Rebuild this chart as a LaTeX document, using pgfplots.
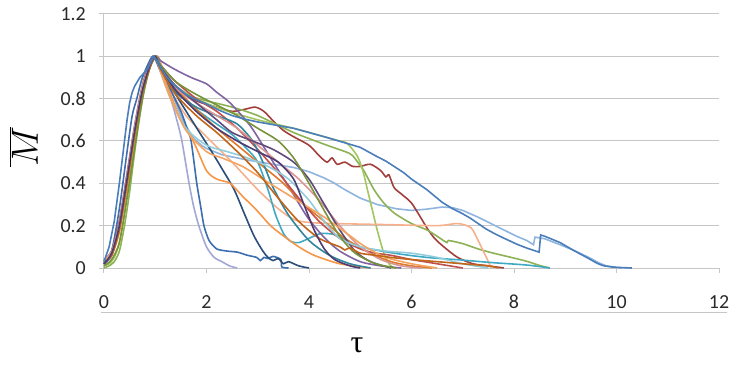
\documentclass[border=0pt]{standalone}
\usepackage{fix-cm}
\usepackage{pgfplots}
\pgfplotsset{compat=1.18}
\usepackage{fontspec}
\setmainfont{Carlito}
\newfontfamily\greekfont{Liberation Serif}
\definecolor{gridc}{HTML}{C6C6C6}
\definecolor{labc}{HTML}{2A2A2A}
\definecolor{cA}{HTML}{4A7EBB}
\definecolor{cB}{HTML}{8FB4DE}
\definecolor{cC}{HTML}{A23F3C}
\definecolor{cD}{HTML}{8DB255}
\definecolor{cE}{HTML}{A3C65E}
\definecolor{cF}{HTML}{F7B08C}
\definecolor{cG}{HTML}{3FA9C4}
\definecolor{cH}{HTML}{A2A8D6}
\definecolor{cI}{HTML}{3D6FB0}
\definecolor{cJ}{HTML}{2A4D7A}
\definecolor{cK}{HTML}{8064A2}
\definecolor{cL}{HTML}{F79646}
\definecolor{cM}{HTML}{E0782A}
\definecolor{cN}{HTML}{C0504D}
\definecolor{cO}{HTML}{31859C}
\definecolor{cP}{HTML}{D99694}
\definecolor{cQ}{HTML}{604A7B}
\definecolor{cR}{HTML}{92CDDC}
\definecolor{cS}{HTML}{F4A460}
\definecolor{cT}{HTML}{77933C}
\definecolor{cU}{HTML}{C0651A}
\definecolor{cV}{HTML}{4D3B72}
\begin{document}
\begin{tikzpicture}
\path[use as bounding box] (-104bp,-98bp) rectangle (629bp,268bp);
\begin{axis}[
  at={(0,0)}, anchor=south west,
  scale only axis, width=615bp, height=254bp,
  xmin=0, xmax=12, ymin=0, ymax=1.2,
  xtick={0,2,4,6,8,10,12},
  ytick={0,0.2,0.4,0.6,0.8,1,1.2},
  yticklabels={0,0.2,0.4,0.6,0.8,1,1.2},
  axis x line=bottom, axis y line=left,
  axis line style={-, draw=gridc, line width=1bp},
  ymajorgrids, grid style={draw=gridc, line width=1bp},
  tick align=outside, major tick length=5bp,
  tick style={draw=gridc, line width=1bp},
  /pgf/number format/assume math mode=true,
  ticklabel style={font=\fontsize{20}{20}\selectfont, text=labc},
  yticklabel style={anchor=east, inner sep=0pt, xshift=-13bp},
  xticklabel style={anchor=center, inner sep=0pt, yshift=-29bp},
  every axis plot/.append style={line width=1.6bp, no markers},
  clip=false,
]
% light blue
\addplot[cB] coordinates {(0,0.02)(0.15,0.07)(0.3,0.2)(0.45,0.42)(0.6,0.65)(0.75,0.84)(0.9,0.96)(1.0,1)(1.1,0.96)(1.2,0.91)(1.3,0.85)(1.4,0.78)(1.5,0.72)(1.6,0.67)(1.76,0.61)(1.9,0.58)(2.0,0.565)(2.3,0.535)(2.8,0.51)(3.3,0.49)(3.7,0.475)(4.0,0.455)(4.3,0.425)(4.5,0.4)(4.7,0.37)(5.0,0.33)(5.33,0.3)(5.7,0.28)(6.0,0.272)(6.3,0.278)(6.6,0.288)(6.8,0.285)(7.0,0.272)(7.3,0.24)(7.55,0.21)(7.8,0.18)(8.05,0.15)(8.25,0.13)(8.38,0.11)(8.41,0.146)(8.6,0.138)(8.9,0.11)(9.2,0.08)(9.5,0.045)(9.65,0.025)(9.8,0.01)(10.1,0)};
% dark red wiggly
\addplot[cC, smooth, tension=0.45] coordinates {(0,0.04)(0.15,0.08)(0.3,0.22)(0.45,0.44)(0.6,0.67)(0.75,0.85)(0.9,0.96)(1.02,1)(1.1,0.95)(1.4,0.85)(1.8,0.79)(2.2,0.76)(2.5,0.74)(2.75,0.75)(2.95,0.76)(3.12,0.74)(3.32,0.69)(3.5,0.65)(3.7,0.62)(4.0,0.58)(4.2,0.53)(4.35,0.5)(4.45,0.52)(4.55,0.49)(4.7,0.5)(4.85,0.48)(5.0,0.48)(5.2,0.49)(5.4,0.46)(5.5,0.43)(5.56,0.44)(5.66,0.38)(5.8,0.35)(5.99,0.31)(6.15,0.25)(6.3,0.19)(6.45,0.14)(6.63,0.1)(6.9,0.05)(7.2,0.02)(7.5,0.01)(7.8,0)};
% green gradual
\addplot[cD, smooth, tension=0.45] coordinates {(0,0)(0.1,0.01)(0.2,0.03)(0.3,0.08)(0.4,0.2)(0.5,0.36)(0.6,0.55)(0.7,0.72)(0.8,0.86)(0.9,0.96)(1.02,1)(1.1,0.96)(1.3,0.88)(1.6,0.82)(2,0.79)(2.5,0.76)(3,0.72)(3.7,0.64)(4.35,0.58)(4.8,0.54)(4.95,0.5)(5.07,0.46)(5.27,0.37)(5.45,0.31)(5.66,0.26)(6.0,0.21)(6.3,0.18)(6.5,0.15)(6.69,0.12)(6.72,0.13)(7.0,0.115)(7.3,0.09)(7.6,0.07)(8.2,0.035)(8.5,0.012)(8.7,0)};
% green sharp
\addplot[cE, smooth, tension=0.45] coordinates {(0,0.01)(0.1,0.02)(0.2,0.05)(0.3,0.12)(0.4,0.26)(0.5,0.44)(0.6,0.62)(0.7,0.78)(0.8,0.9)(0.9,0.97)(1.0,1)(1.1,0.95)(1.4,0.86)(1.8,0.8)(2.3,0.75)(3,0.7)(3.7,0.66)(4.3,0.62)(4.6,0.6)(4.74,0.59)(4.94,0.53)(5.05,0.46)(5.14,0.37)(5.24,0.27)(5.33,0.18)(5.46,0.07)(5.56,0.02)(5.66,0)};
% salmon plateau
\addplot[cF, smooth, tension=0.45] coordinates {(0,0.03)(0.15,0.08)(0.3,0.22)(0.45,0.45)(0.6,0.68)(0.75,0.87)(0.9,0.97)(1.05,1)(1.15,0.94)(1.3,0.84)(1.6,0.72)(2,0.62)(2.5,0.5)(3,0.37)(3.4,0.28)(3.7,0.23)(4.0,0.215)(4.5,0.21)(5.5,0.205)(6.5,0.2)(6.9,0.21)(7.16,0.19)(7.3,0.13)(7.4,0.08)(7.5,0.03)(7.55,0)};
% aqua
\addplot[cG, smooth, tension=0.45] coordinates {(0,0.02)(0.15,0.06)(0.3,0.19)(0.45,0.41)(0.6,0.64)(0.75,0.84)(0.9,0.96)(1.0,1)(1.1,0.95)(1.4,0.84)(1.8,0.75)(2.2,0.68)(2.5,0.63)(2.8,0.56)(3.0,0.5)(3.2,0.37)(3.35,0.25)(3.51,0.16)(3.65,0.125)(3.8,0.12)(4.0,0.14)(4.23,0.163)(4.5,0.158)(4.75,0.13)(5,0.1)(5.66,0.07)(6.3,0.05)(6.96,0.038)(7.6,0.025)(8.25,0.014)(8.7,0)};
% lavender steep
\addplot[cH, smooth, tension=0.45] coordinates {(0,0.03)(0.15,0.08)(0.3,0.21)(0.45,0.43)(0.6,0.66)(0.75,0.85)(0.9,0.96)(1.0,1)(1.1,0.93)(1.3,0.8)(1.42,0.7)(1.52,0.6)(1.66,0.4)(1.75,0.29)(1.85,0.2)(2.0,0.1)(2.15,0.05)(2.3,0.03)(2.45,0.01)(2.6,0)};
% blue with low plateau
\addplot[cI, smooth, tension=0.4] coordinates {(0,0.02)(0.15,0.08)(0.3,0.28)(0.45,0.55)(0.55,0.72)(0.64,0.8)(0.75,0.9)(0.95,1)(1.1,0.93)(1.3,0.84)(1.5,0.74)(1.62,0.66)(1.7,0.6)(1.81,0.4)(1.88,0.3)(1.95,0.2)(2.05,0.13)(2.2,0.09)(2.4,0.08)(2.6,0.075)(2.8,0.06)(2.98,0.05)(3.05,0.035)(3.12,0.05)(3.2,0.045)(3.3,0.055)(3.45,0.04)(3.47,0.005)(3.6,0)};
% navy
\addplot[cJ, smooth, tension=0.45] coordinates {(0,0.03)(0.15,0.07)(0.3,0.2)(0.45,0.43)(0.6,0.66)(0.75,0.85)(0.9,0.96)(1.0,1)(1.1,0.95)(1.4,0.82)(1.76,0.68)(2.1,0.55)(2.3,0.47)(2.54,0.37)(2.75,0.25)(2.93,0.15)(3.1,0.08)(3.2,0.05)(3.3,0.035)(3.4,0.045)(3.5,0.02)(3.6,0.03)(3.8,0.01)(4.0,0)};
% purple top
\addplot[cK, smooth, tension=0.45] coordinates {(0,0.02)(0.15,0.06)(0.3,0.19)(0.45,0.41)(0.6,0.64)(0.75,0.83)(0.9,0.95)(1.02,1)(1.1,0.98)(1.37,0.94)(1.7,0.9)(2.0,0.87)(2.2,0.83)(2.46,0.78)(2.86,0.67)(3.25,0.52)(3.64,0.37)(3.97,0.24)(4.29,0.146)(4.6,0.08)(5.0,0.03)(5.4,0.01)(5.8,0)};
% orange low
\addplot[cL, smooth, tension=0.45] coordinates {(0,0.03)(0.15,0.06)(0.3,0.17)(0.45,0.38)(0.6,0.62)(0.75,0.82)(0.9,0.95)(1.0,1)(1.1,0.94)(1.3,0.82)(1.5,0.7)(1.76,0.59)(2.0,0.46)(2.2,0.42)(2.46,0.4)(2.7,0.34)(2.99,0.27)(3.25,0.2)(3.51,0.15)(3.8,0.1)(4.1,0.06)(4.6,0.02)(5.2,0)};
% orange 2
\addplot[cM, smooth, tension=0.45] coordinates {(0,0.02)(0.15,0.07)(0.3,0.2)(0.45,0.42)(0.6,0.65)(0.75,0.84)(0.9,0.96)(1.0,1)(1.1,0.95)(1.4,0.85)(1.8,0.75)(2.2,0.66)(2.6,0.58)(3.0,0.5)(3.5,0.4)(3.9,0.3)(4.3,0.22)(4.7,0.14)(5.2,0.07)(5.6,0.03)(6.0,0.01)(6.4,0)};
% red mid
\addplot[cN, smooth, tension=0.45] coordinates {(0,0.03)(0.15,0.08)(0.3,0.22)(0.45,0.44)(0.6,0.67)(0.75,0.86)(0.9,0.97)(1.0,1)(1.1,0.96)(1.4,0.88)(1.8,0.8)(2.2,0.74)(2.6,0.66)(3.0,0.56)(3.4,0.45)(3.8,0.33)(4.2,0.22)(4.6,0.14)(5.0,0.09)(5.3,0.07)(5.6,0.06)(6.0,0.04)(6.5,0.02)(7.0,0)};
% teal
\addplot[cO, smooth, tension=0.45] coordinates {(0,0.02)(0.15,0.07)(0.3,0.2)(0.45,0.42)(0.6,0.65)(0.75,0.84)(0.9,0.96)(1.0,1)(1.1,0.94)(1.4,0.83)(1.8,0.76)(2.2,0.72)(2.6,0.68)(2.9,0.6)(3.1,0.5)(3.3,0.38)(3.6,0.25)(4.0,0.13)(4.4,0.06)(4.8,0.02)(5.2,0)};
% pink
\addplot[cP, smooth, tension=0.45] coordinates {(0,0.04)(0.15,0.08)(0.3,0.21)(0.45,0.43)(0.6,0.66)(0.75,0.85)(0.9,0.96)(1.02,1)(1.1,0.95)(1.4,0.85)(1.8,0.78)(2.2,0.72)(2.6,0.66)(3.0,0.58)(3.4,0.5)(3.8,0.42)(4.2,0.32)(4.6,0.2)(5.0,0.1)(5.4,0.04)(5.8,0.01)(6.2,0)};
% purple 2
\addplot[cQ, smooth, tension=0.45] coordinates {(0,0.02)(0.15,0.07)(0.3,0.2)(0.45,0.42)(0.6,0.65)(0.75,0.84)(0.9,0.96)(1.0,1)(1.1,0.95)(1.4,0.86)(1.8,0.78)(2.2,0.7)(2.5,0.64)(2.9,0.6)(3.3,0.56)(3.7,0.5)(4.0,0.42)(4.3,0.3)(4.6,0.18)(4.9,0.08)(5.2,0.03)(5.6,0)};
% light aqua
\addplot[cR, smooth, tension=0.45] coordinates {(0,0.03)(0.15,0.07)(0.3,0.2)(0.45,0.42)(0.6,0.66)(0.75,0.85)(0.9,0.96)(1.0,1)(1.1,0.93)(1.3,0.8)(1.6,0.66)(2.0,0.58)(2.4,0.55)(2.8,0.52)(3.2,0.48)(3.6,0.42)(4.0,0.32)(4.3,0.22)(4.6,0.14)(5.0,0.1)(5.5,0.08)(6.0,0.07)(6.5,0.05)(7.0,0.02)(7.5,0)};
% light orange
\addplot[cS, smooth, tension=0.45] coordinates {(0,0.03)(0.15,0.07)(0.3,0.19)(0.45,0.41)(0.6,0.64)(0.75,0.84)(0.9,0.96)(1.02,1)(1.1,0.93)(1.3,0.8)(1.6,0.65)(2.0,0.55)(2.3,0.52)(2.7,0.48)(3.1,0.42)(3.5,0.36)(3.9,0.3)(4.3,0.24)(4.7,0.17)(5.1,0.1)(5.5,0.05)(6.0,0.02)(6.5,0)};
% dark green
\addplot[cT, smooth, tension=0.45] coordinates {(0,0.01)(0.15,0.04)(0.3,0.12)(0.45,0.33)(0.6,0.57)(0.75,0.8)(0.9,0.95)(1.02,1)(1.1,0.96)(1.4,0.88)(1.8,0.82)(2.2,0.77)(2.6,0.72)(3.0,0.66)(3.4,0.6)(3.7,0.52)(4.0,0.4)(4.3,0.27)(4.6,0.15)(4.9,0.07)(5.3,0.02)(5.7,0)};
% brick orange noisy tail
\addplot[cU, smooth, tension=0.45] coordinates {(0,0.03)(0.15,0.06)(0.3,0.18)(0.45,0.4)(0.6,0.63)(0.75,0.83)(0.9,0.95)(1.0,1)(1.1,0.94)(1.4,0.82)(1.8,0.72)(2.2,0.64)(2.6,0.55)(3.0,0.45)(3.4,0.33)(3.8,0.22)(4.2,0.14)(4.6,0.1)(4.7,0.085)(4.8,0.095)(5.0,0.07)(5.3,0.06)(5.6,0.05)(6.0,0.04)(6.5,0.03)(7.0,0.02)(7.5,0.01)(7.7,0)};
% dark purple
\addplot[cV, smooth, tension=0.45] coordinates {(0,0.02)(0.15,0.07)(0.3,0.2)(0.45,0.42)(0.6,0.65)(0.75,0.84)(0.9,0.96)(1.0,1)(1.1,0.95)(1.4,0.84)(1.8,0.74)(2.2,0.66)(2.6,0.6)(3.0,0.55)(3.4,0.5)(3.7,0.42)(3.9,0.3)(4.1,0.18)(4.3,0.09)(4.5,0.04)(4.8,0.01)(5.0,0)};
% main blue long
\addplot[cA] coordinates {(0,0.03)(0.1,0.1)(0.2,0.22)(0.3,0.4)(0.4,0.6)(0.45,0.7)(0.5,0.78)(0.55,0.83)(0.6,0.86)(0.7,0.9)(0.85,0.94)(0.97,1)(1.05,0.975)(1.1,0.95)(1.2,0.91)(1.3,0.88)(1.45,0.85)(1.6,0.82)(1.8,0.795)(2,0.775)(2.25,0.745)(2.5,0.72)(2.75,0.703)(3,0.69)(3.35,0.675)(3.7,0.66)(4.0,0.64)(4.3,0.62)(4.65,0.595)(5,0.57)(5.15,0.55)(5.3,0.53)(5.5,0.505)(5.66,0.48)(5.85,0.45)(6.0,0.42)(6.15,0.395)(6.3,0.37)(6.45,0.34)(6.6,0.31)(6.8,0.28)(6.97,0.26)(7.15,0.235)(7.3,0.21)(7.45,0.185)(7.6,0.165)(7.75,0.147)(7.9,0.13)(8.05,0.113)(8.25,0.094)(8.4,0.082)(8.49,0.075)(8.52,0.156)(8.6,0.15)(8.7,0.14)(8.8,0.13)(8.9,0.12)(9.0,0.106)(9.15,0.085)(9.3,0.065)(9.42,0.05)(9.52,0.036)(9.6,0.025)(9.68,0.016)(9.76,0.01)(9.9,0.005)(10,0.003)(10.3,0)};
\end{axis}
\draw[gridc, line width=0.8bp] (-3bp,-44bp) -- (623bp,-44bp);
\node[rotate=90, anchor=center, inner sep=0pt] at (-80bp,121bp) {\fontsize{38}{38}\selectfont$\overline{M}$};
\node[anchor=center, inner sep=0pt] at (253bp,-77bp) {\greekfont\fontsize{32}{32}\selectfont τ};
\end{tikzpicture}
\end{document}
